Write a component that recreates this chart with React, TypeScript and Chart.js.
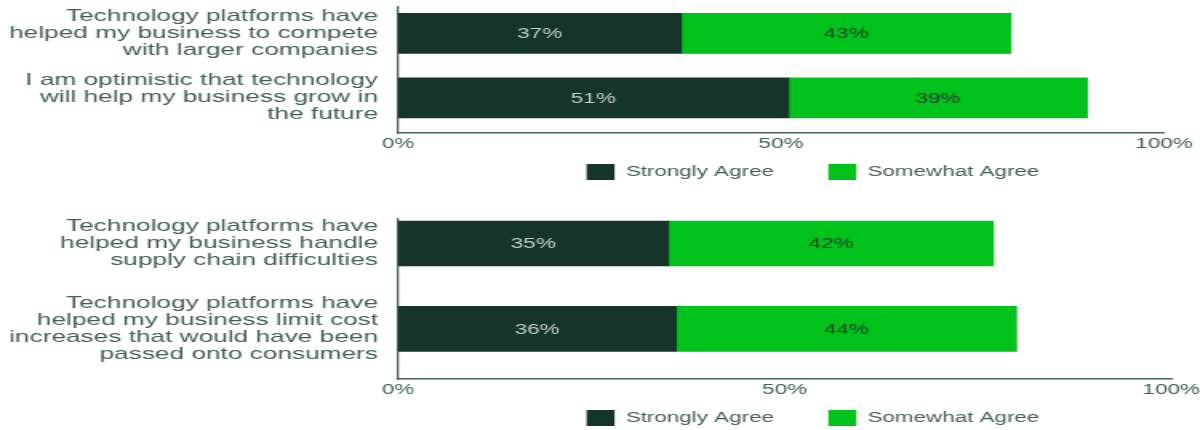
import React, { useEffect, useRef } from "react";
import { Chart, registerables } from "chart.js";

Chart.register(...registerables);

// ---------- data ----------
const seriesNames = ["Strongly Agree", "Somewhat Agree"];

const topCategories = [
  ["Technology platforms have", "helped my business to compete", "with larger companies"],
  ["I am optimistic that technology", "will help my business grow in", "the future"],
];
const topStrongly = [37, 51];
const topSomewhat = [43, 39];

const bottomCategories = [
  ["Technology platforms have", "helped my business handle", "supply chain difficulties"],
  [
    "Technology platforms have",
    "helped my business limit cost",
    "increases that would have been",
    "passed onto consumers",
  ],
];
const bottomStrongly = [35, 36];
const bottomSomewhat = [42, 44];

const xTickValues = [0, 50, 100];

// ---------- style ----------
const STRETCH = 1.6; // the reference is horizontally stretched
const CANVAS_W = 1200 / STRETCH;
const FONT = "'Liberation Sans', Arial, sans-serif";
const DARK = "#15352b";
const GREEN = "#00c21b";
const TEXT = "#405e52";
const AXIS = "#4a6659";

const barValueLabels = {
  id: "barValueLabels",
  afterDatasetsDraw(chart: any) {
    const ctx = chart.ctx;
    ctx.save();
    ctx.font = `14px ${FONT}`;
    ctx.textAlign = "center";
    ctx.textBaseline = "middle";
    chart.data.datasets.forEach((ds: any, i: number) => {
      const meta = chart.getDatasetMeta(i);
      meta.data.forEach((bar: any, j: number) => {
        const p = bar.getProps(["x", "y", "base"], true);
        ctx.fillStyle = i === 0 ? "#c3ccc7" : "#1f3d2c";
        ctx.fillText(`${ds.data[j].x}%`, (p.x + p.base) / 2, p.y + 1);
      });
    });
    ctx.restore();
  },
};

const legendPlacer = {
  id: "legendPlacer",
  afterLayout(chart: any, _args: any, opts: any) {
    const lg = chart.legend;
    if (!lg || opts.centerX == null) return;
    lg.left = 2 * opts.centerX - chart.width;
    lg.right = chart.width;
    lg.width = lg.right - lg.left;
    lg.top = opts.top;
    lg.bottom = chart.height;
    lg.height = lg.bottom - lg.top;
  },
};

function makeConfig(
  categories: string[][],
  strongly: number[],
  somewhat: number[],
  o: {
    yMin: number;
    yMax: number;
    padTop: number;
    padRight: number;
    legendMaxH: number;
    legendTop: number;
    barThickness: number;
  }
): any {
  const idx = categories.map((_, i) => i);
  return {
    type: "bar",
    data: {
      datasets: [
        {
          label: seriesNames[0],
          data: strongly.map((v, i) => ({ x: v, y: i })),
          backgroundColor: DARK,
          borderWidth: 0,
          barThickness: o.barThickness,
        },
        {
          label: seriesNames[1],
          data: somewhat.map((v, i) => ({ x: v, y: i })),
          backgroundColor: GREEN,
          borderWidth: 0,
          barThickness: o.barThickness,
        },
      ],
    },
    options: {
      indexAxis: "y",
      animation: false,
      responsive: true,
      maintainAspectRatio: false,
      layout: { padding: { top: o.padTop, right: o.padRight, left: 0, bottom: 0 } },
      scales: {
        x: {
          type: "linear",
          stacked: true,
          min: 0,
          max: 100,
          grid: { display: false, drawTicks: false },
          border: { display: true, color: AXIS, width: 1.4 },
          afterBuildTicks: (axis: any) => {
            axis.ticks = xTickValues.map((v) => ({ value: v }));
          },
          afterFit: (scale: any) => {
            scale.paddingLeft = 0;
            scale.paddingRight = 0;
          },
          ticks: {
            padding: 3,
            color: TEXT,
            font: { family: FONT, size: 14 },
            maxRotation: 0,
            autoSkip: false,
            callback: (v: any) => `${v}%`,
          },
        },
        y: {
          type: "linear",
          stacked: true,
          reverse: true,
          offset: false,
          min: o.yMin,
          max: o.yMax,
          grid: { display: false, drawTicks: false, offset: false },
          border: { display: true, color: AXIS, width: 1.3 },
          afterBuildTicks: (axis: any) => {
            axis.ticks = idx.map((v) => ({ value: v }));
          },
          afterFit: (scale: any) => {
            scale.width = 398 / STRETCH;
            scale.paddingTop = 0;
            scale.paddingBottom = 0;
          },
          ticks: {
            padding: 12.5,
            color: TEXT,
            autoSkip: false,
            font: { family: FONT, size: 16.4, lineHeight: "17px" },
            callback: (v: any) => categories[v] ?? "",
          },
        },
      },
      plugins: {
        tooltip: { enabled: false },
        legend: {
          display: true,
          position: "bottom",
          maxHeight: o.legendMaxH,
          labels: {
            boxWidth: 17.5,
            boxHeight: 16,
            padding: 34,
            color: TEXT,
            font: { family: FONT, size: 14 },
          },
        },
        legendPlacer: { centerX: 813 / STRETCH, top: o.legendTop },
      },
    },
    plugins: [barValueLabels, legendPlacer],
  };
}

export default function App() {
  const ref1 = useRef<HTMLCanvasElement | null>(null);
  const ref2 = useRef<HTMLCanvasElement | null>(null);

  useEffect(() => {
    document.body.style.margin = "0";
    document.body.style.overflow = "hidden";
    const c1 = new Chart(
      ref1.current as HTMLCanvasElement,
      makeConfig(topCategories, topStrongly, topSomewhat, {
        yMin: -0.409,
        yMax: 1.545,
        padTop: 7,
        padRight: 22.5,
        legendMaxH: 44.2,
        legendTop: 130,
        barThickness: 40,
      })
    );
    const c2 = new Chart(
      ref2.current as HTMLCanvasElement,
      makeConfig(bottomCategories, bottomStrongly, bottomSomewhat, {
        yMin: -0.287,
        yMax: 1.586,
        padTop: 19,
        padRight: 18,
        legendMaxH: 28.2,
        legendTop: 176,
        barThickness: 45,
      })
    );
    return () => {
      c1.destroy();
      c2.destroy();
    };
  }, []);

  const wrap: React.CSSProperties = {
    position: "relative",
    width: CANVAS_W,
    transform: `scaleX(${STRETCH})`,
    transformOrigin: "0 0",
  };

  return (
    <div style={{ width: 1200, height: 430, overflow: "hidden", background: "#fff" }}>
      <div style={{ ...wrap, height: 200 }}>
        <canvas ref={ref1} />
      </div>
      <div style={{ ...wrap, height: 230 }}>
        <canvas ref={ref2} />
      </div>
    </div>
  );
}
